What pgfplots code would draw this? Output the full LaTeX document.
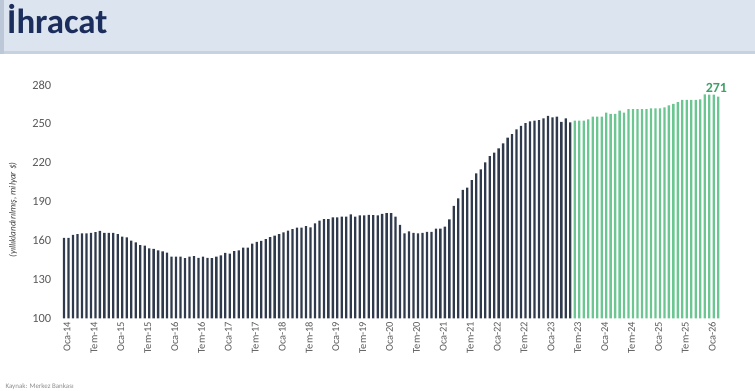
\documentclass[border=0pt]{standalone}
\usepackage{pgfplots}
\pgfplotsset{compat=1.18}
\usepackage{pgfplotstable}
\usepackage{fontspec}
\setmainfont{Carlito}
\definecolor{darkbar}{HTML}{2F3B4C}
\definecolor{greenbar}{HTML}{6CC692}
\definecolor{greenlab}{HTML}{3FA068}
\definecolor{headbg}{HTML}{DCE4EF}
\definecolor{headline}{HTML}{C7D1DF}
\definecolor{headedge}{HTML}{BCC7D8}
\definecolor{titleblue}{HTML}{1B2D5C}
\definecolor{ticklab}{HTML}{595959}

\pgfplotstableread{
m v
0 162
1 162
2 164.3
3 165
4 165.5
5 165.5
6 166
7 166.5
8 167.5
9 166
10 166
11 166
12 165
13 163
14 162.5
15 160
16 158.5
17 156.5
18 156
19 154
20 153.5
21 152.5
22 151.7
23 150.6
24 147.5
25 147.5
26 147.5
27 146.4
28 147.5
29 148
30 146.7
31 147.5
32 146.7
33 146.4
34 147.5
35 148.5
36 150.5
37 150
38 151.8
39 152.5
40 154.5
41 154.5
42 157.6
43 159
44 159.8
45 161.1
46 162.6
47 163.7
48 165
49 166.3
50 167.6
51 168.9
52 170
53 170
54 171.2
55 170.2
56 173.3
57 175.3
58 176.6
59 176.6
60 177.9
61 177.9
62 178.4
63 178.4
64 180.2
65 178.4
66 179.4
67 179.5
68 179.8
69 179.7
70 179.4
71 180.5
72 181.2
73 181.2
74 178.4
75 172
76 165.6
77 167.1
78 166
79 165.6
80 166
81 166.6
82 166.6
83 169.2
84 169.2
85 170.7
86 176.4
87 186.7
88 192.6
89 199
90 200.8
91 206.7
92 211.9
93 215
94 220.4
95 225.2
96 227.8
97 231.2
98 235
99 239.4
100 242.2
101 245.8
102 248.4
103 250.5
104 252
105 252.5
106 252.9
107 254.3
108 256.1
109 255.1
110 255.6
111 251.5
112 254.2
113 251.2
}\actualdata

\pgfplotstableread{
m v
114 252.5
115 252.5
116 252.5
117 253.5
118 255.6
119 255.6
120 255.6
121 258.6
122 257.8
123 257.8
124 260.2
125 258.6
126 261.3
127 261.3
128 261.3
129 261.3
130 261.3
131 262
132 262
133 262
134 262.8
135 264.3
136 265.4
137 266.7
138 268.5
139 268.5
140 268.5
141 268.5
142 269
143 272.8
144 272.5
145 272.5
146 271
}\forecastdata

\begin{document}
\begin{tikzpicture}[x=1bp,y=1bp]
\fill[headbg] (0,0) rectangle (755,-51);
\fill[headline] (0,-51) rectangle (755,-54);
\fill[headedge] (0,0) rectangle (4,-54);
\node[anchor=base west, inner sep=0pt, text=titleblue,
      font=\fontsize{35}{35}\selectfont\bfseries] at (7,-33) {İhracat};
\begin{axis}[
  at={(61.8bp,-318.3bp)}, anchor=south west,
  scale only axis, width=658.6bp, height=233.3bp,
  xmin=-0.5, xmax=146.5, ymin=100, ymax=280,
  clip mode=individual,
  axis line style={draw=none},
  major tick length=0pt,
  ytick={100,130,...,280},
  xtick={0,6,...,144},
  xticklabels={Oca-14,Tem-14,Oca-15,Tem-15,Oca-16,Tem-16,Oca-17,Tem-17,Oca-18,Tem-18,Oca-19,Tem-19,Oca-20,Tem-20,Oca-21,Tem-21,Oca-22,Tem-22,Oca-23,Tem-23,Oca-24,Tem-24,Oca-25,Tem-25,Oca-26},
  /pgf/number format/assume math mode=true,
  yticklabel style={font=\fontsize{12.5}{13}\selectfont, text=ticklab, xshift=-7bp},
  xticklabel style={font=\fontsize{10.5}{11}\selectfont, text=ticklab, rotate=90, anchor=east, xshift=0bp, yshift=-3bp},
]
\addplot[ybar, bar shift=0pt, bar width=2.3bp, fill=darkbar, draw=none] table[x=m,y=v] {\actualdata};
\addplot[ybar, bar shift=0pt, bar width=2.3bp, fill=greenbar, draw=none] table[x=m,y=v] {\forecastdata};
\node[anchor=south, text=greenlab, font=\fontsize{14}{14}\selectfont\bfseries, inner sep=1bp] at (axis cs:145.6,273.3) {271};
\end{axis}
\node[rotate=90, font=\fontsize{9.2}{9.5}\selectfont\itshape, text=black!75] at (13,-210) {(yıllıklandırılmış, milyar \$)};
\node[anchor=west, font=\fontsize{7}{7}\selectfont, text=black!45] at (2,-387) {Kaynak: Merkez Bankası};
\pgfresetboundingbox
\useasboundingbox (0,0) rectangle (755,-390);
\end{tikzpicture}
\end{document}
